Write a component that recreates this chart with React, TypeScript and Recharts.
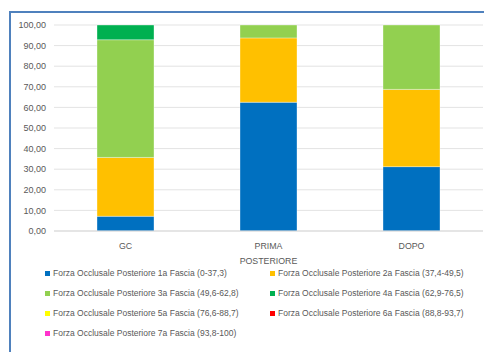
import React from "react";
import { BarChart, Bar, XAxis, YAxis, CartesianGrid, Legend } from "recharts";

const categories = ["GC", "PRIMA", "DOPO"];
const fascia1 = [7.14, 62.5, 31.25];
const fascia2 = [28.57, 31.25, 37.5];
const fascia3 = [57.14, 6.25, 31.25];
const fascia4 = [7.14, 0, 0];
const fascia5 = [0, 0, 0];
const fascia6 = [0, 0, 0];
const fascia7 = [0, 0, 0];
const yTicks = [0, 10, 20, 30, 40, 50, 60, 70, 80, 90, 100];

const seriesNames = [
  "Forza Occlusale Posteriore 1a Fascia (0-37,3)",
  "Forza Occlusale Posteriore 2a Fascia (37,4-49,5)",
  "Forza Occlusale Posteriore 3a Fascia (49,6-62,8)",
  "Forza Occlusale Posteriore 4a Fascia (62,9-76,5)",
  "Forza Occlusale Posteriore 5a Fascia (76,6-88,7)",
  "Forza Occlusale Posteriore 6a Fascia (88,8-93,7)",
  "Forza Occlusale Posteriore 7a Fascia (93,8-100)",
];
const seriesColors = ["#0070C0", "#FFC000", "#92D050", "#00B050", "#FFFF00", "#FF0000", "#FF33CC"];
const seriesValues = [fascia1, fascia2, fascia3, fascia4, fascia5, fascia6, fascia7];

const data = categories.map((c, i) => {
  const row: Record<string, string | number> = { name: c };
  seriesValues.forEach((vals, s) => {
    row["f" + s] = vals[i];
  });
  return row;
});

const FONT = "'Liberation Sans', Arial, sans-serif";
const fmt = (v: number) => v.toFixed(2).replace(".", ",");

const LegendBlock = () => (
  <div style={{ position: "relative", width: 484, height: 80, fontFamily: FONT, fontSize: 8.5, color: "#595959" }}>
    {seriesNames.map((n, i) => {
      const col = i % 2;
      const row = Math.floor(i / 2);
      return (
        <div
          key={n}
          style={{
            position: "absolute",
            left: col === 0 ? 45 : 270,
            top: row * 20,
            whiteSpace: "nowrap",
            display: "flex",
            alignItems: "center",
            lineHeight: "12px",
          }}
        >
          <span style={{ display: "inline-block", width: 5, height: 5, background: seriesColors[i], marginRight: 3 }} />
          <span>{n}</span>
        </div>
      );
    })}
  </div>
);

export default function App() {
  return (
    <div style={{ position: "absolute", left: 0, top: 0, width: 484, height: 352, background: "#fff" }}>
      <div
        style={{
          position: "absolute",
          left: 9,
          top: 11,
          width: 480,
          height: 345,
          borderTop: "2px solid #4F81BD",
          borderLeft: "2px solid #4F81BD",
        }}
      />
      <BarChart
        width={484}
        height={352}
        data={data}
        margin={{ top: 25, right: 1, left: 0, bottom: 81 }}
        barSize={57}
      >
        <CartesianGrid vertical={false} stroke="#e3e3e3" strokeWidth={1} />
        <XAxis
          dataKey="name"
          height={40}
          tickLine={false}
          axisLine={{ stroke: "#d9d9d9" }}
          tick={{ fill: "#595959", fontSize: 8.8, fontFamily: FONT }}
          tickMargin={6}
          label={{ value: "POSTERIORE", position: "insideBottom", offset: 7, fill: "#595959", fontSize: 8.8, fontFamily: FONT }}
        />
        <YAxis
          width={54}
          domain={[0, 100]}
          ticks={yTicks}
          interval={0}
          tickFormatter={fmt}
          tickLine={false}
          axisLine={false}
          tickSize={0}
          tickMargin={8}
          tick={{ fill: "#595959", fontSize: 9, fontFamily: FONT }}
        />
        {seriesNames.map((n, i) => (
          <Bar
            key={n}
            dataKey={"f" + i}
            name={n}
            stackId="a"
            fill={seriesColors[i]}
            stroke="#ffffff"
            strokeOpacity={0.35}
            strokeWidth={1}
            isAnimationActive={false}
          />
        ))}
        <Legend
          layout="vertical"
          align="center"
          verticalAlign="middle"
          wrapperStyle={{ left: 0, top: 267, width: 484, height: 80 }}
          content={() => <LegendBlock />}
        />
      </BarChart>
    </div>
  );
}
